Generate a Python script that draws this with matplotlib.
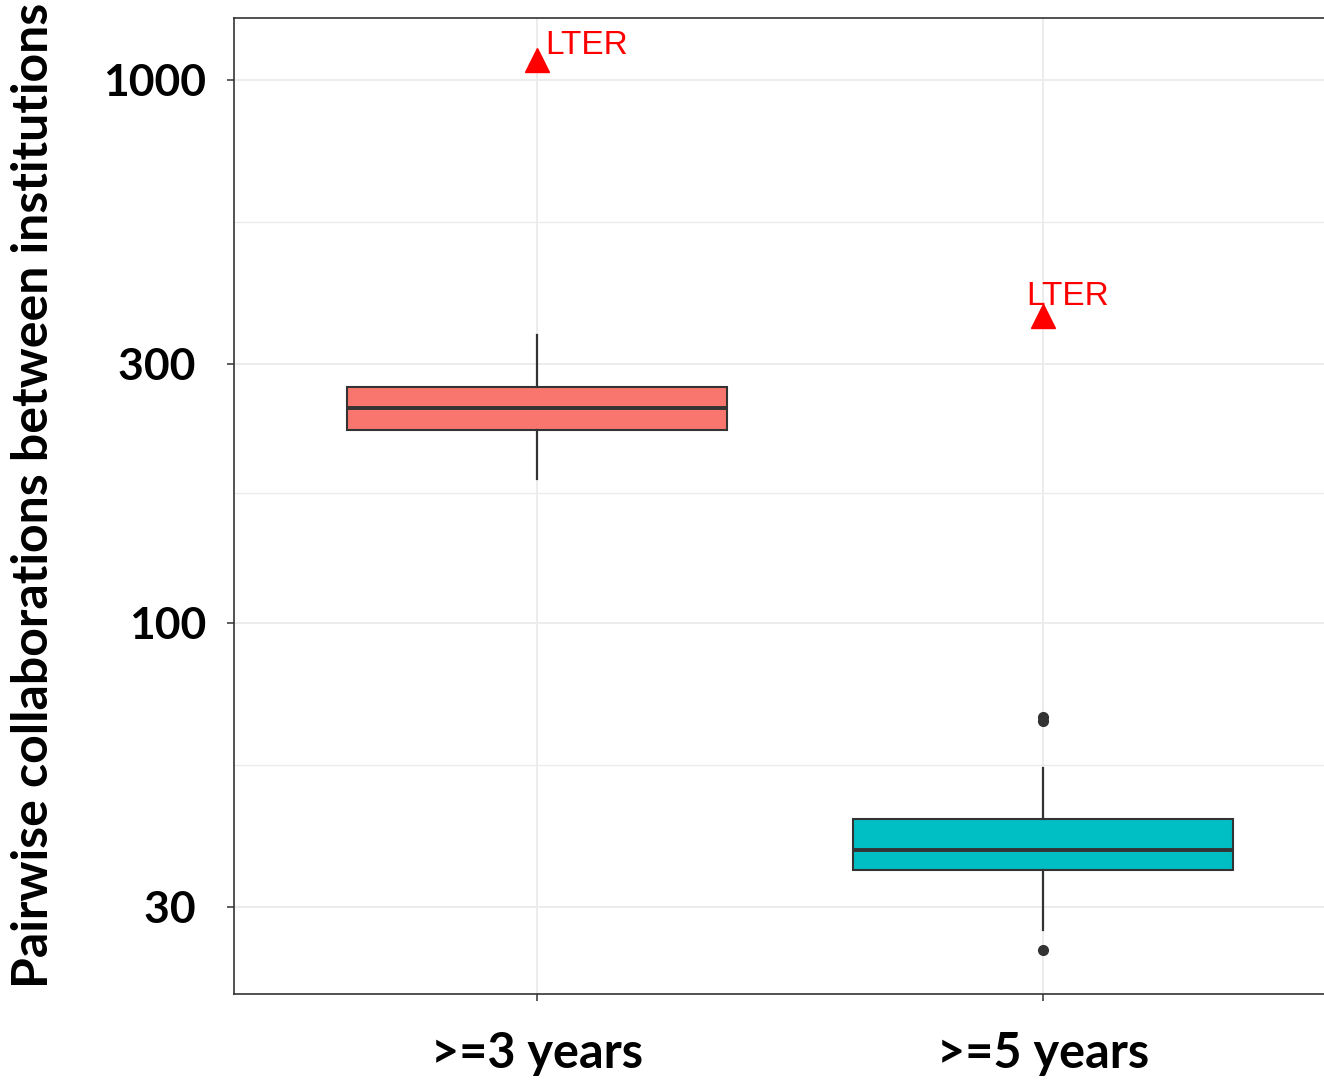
import numpy as np
import matplotlib
matplotlib.use("Agg")
import matplotlib.pyplot as plt

# group labels and box statistics (log-scaled counts)
groups = [">=3 years", ">=5 years"]
q1 = [226, 35.0]
med = [249, 38.2]
q3 = [272, 43.4]
whislo = [184, 27.2]
whishi = [339, 54.1]
outliers = [[1089], [66.0, 67.1, 24.9, 367]]
fills = ["#F8766D", "#00BFC4"]

# highlighted network
lter_y = [1089, 367]
lter_label = "LTER"
lter_offsets = [(6, 4), (-12, 8)]  # label offset from point, in points

yticks = [30, 100, 300, 1000]
ytick_labels = ["30 ", "100", "300 ", "1000"]
ymin, ymax = 20.7, 1300

fig = plt.figure(figsize=(13.24, 10.8), dpi=100)
ax = fig.add_axes([234 / 1324, 86 / 1080, 1090 / 1324, 976 / 1080])

pos = np.arange(1, len(groups) + 1)
stats = []
for i in range(len(groups)):
    stats.append(dict(med=med[i], q1=q1[i], q3=q3[i], whislo=whislo[i],
                      whishi=whishi[i], fliers=outliers[i]))

edge = "#333333"
bp = ax.bxp(stats, positions=pos, widths=0.75, showcaps=False, patch_artist=True,
            boxprops=dict(edgecolor=edge, linewidth=1.5),
            whiskerprops=dict(color=edge, linewidth=1.6),
            medianprops=dict(color=edge, linewidth=2.8),
            flierprops=dict(marker="o", markerfacecolor=edge, markeredgecolor=edge,
                            markersize=7),
            zorder=3)
for patch, c in zip(bp["boxes"], fills):
    patch.set_facecolor(c)

ax.plot(pos, lter_y, linestyle="none", marker="^", color="red", markersize=17, zorder=5)
for x, y, off in zip(pos, lter_y, lter_offsets):
    ax.annotate(lter_label, (x, y), xytext=off, textcoords="offset points",
                color="red", fontsize=24, family="Liberation Sans",
                ha="left", va="baseline", zorder=6)

ax.set_yscale("log")
ax.set_ylim(ymin, ymax)
ax.set_xlim(0.401, 2.555)

ax.set_yticks(yticks)
ax.set_yticklabels(ytick_labels)
minor = [np.sqrt(yticks[i] * yticks[i + 1]) for i in range(len(yticks) - 1)]
ax.set_yticks(minor, minor=True)
ax.yaxis.set_minor_formatter(matplotlib.ticker.NullFormatter())
ax.tick_params(axis="y", which="minor", length=0)
ax.set_xticks(pos)
ax.set_xticklabels(groups)

ax.grid(True, which="major", color="#EBEBEB", linewidth=1.3, zorder=0)
ax.grid(True, which="minor", axis="y", color="#EBEBEB", linewidth=1.0, zorder=0)
ax.set_axisbelow(True)

for s in ["left", "bottom", "top"]:
    ax.spines[s].set_color(edge)
    ax.spines[s].set_linewidth(1.2)
ax.spines["right"].set_visible(False)

ax.tick_params(axis="both", which="major", color=edge, width=1.1, length=5)
ax.tick_params(axis="y", which="major", pad=15)
ax.tick_params(axis="x", which="major", pad=22)
for lab in ax.get_yticklabels():
    lab.set_fontfamily("Lato")
    lab.set_fontweight("bold")
    lab.set_fontsize(32)
for lab in ax.get_xticklabels():
    lab.set_fontfamily("Lato")
    lab.set_fontweight("bold")
    lab.set_fontsize(35)

ax.set_ylabel("Pairwise collaborations between institutions", family="Lato",
              fontweight="bold", fontsize=36)
ax.yaxis.set_label_coords(-0.163, 0.511)

fig.savefig("out.png", dpi=100)
